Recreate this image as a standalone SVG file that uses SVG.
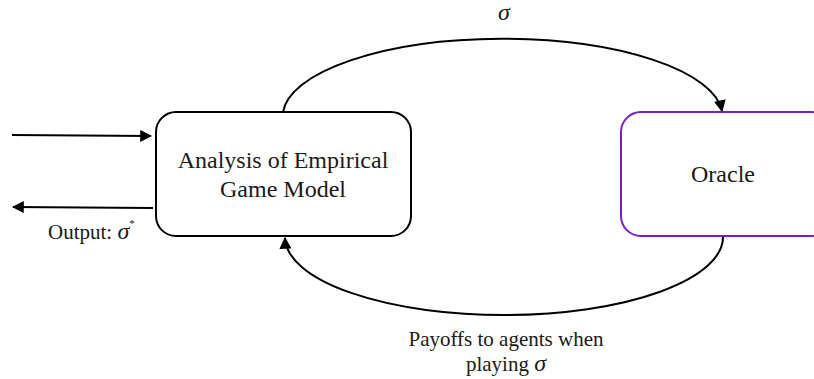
<svg xmlns="http://www.w3.org/2000/svg" width="814" height="379" viewBox="0 0 814 379">
<style>
.t{font-family:"Liberation Serif","DejaVu Serif",serif;fill:#1a1a1a;}
.c{fill:none;stroke:#000;stroke-width:2;}
</style>
<defs>
<marker id="ah" viewBox="0 0 10 10" refX="9" refY="5" markerWidth="6" markerHeight="6" markerUnits="strokeWidth" orient="auto">
<path d="M0,0 L10,5 L0,10 Z" fill="#000"/>
</marker>
</defs>
<rect width="814" height="379" fill="#fff"/>
<g id="connectors">
<path class="c" d="M283,112 A220,78 0 0 1 722,111" marker-end="url(#ah)"/>
<path class="c" d="M723,236 A219,78 0 0 1 285,238" marker-end="url(#ah)"/>
<path class="c" d="M12,135 L151,136" marker-end="url(#ah)"/>
<path class="c" d="M153,208 L13,207" marker-end="url(#ah)"/>
</g>
<g id="analysis">
<rect x="156" y="112" width="255" height="124" rx="20" fill="#fff" stroke="#000" stroke-width="2"/>
<text class="t" x="283" y="168" font-size="24" text-anchor="middle">Analysis of Empirical</text>
<text class="t" x="283" y="197" font-size="24" text-anchor="middle">Game Model</text>
</g>
<g id="oracle">
<rect x="621" y="112" width="210" height="124" rx="20" fill="#fff" stroke="#7a1fc7" stroke-width="2"/>
<text class="t" x="723" y="182" font-size="24" text-anchor="middle">Oracle</text>
</g>
<g id="labels">
<text class="t" x="504" y="20" font-size="24" font-style="italic" text-anchor="middle">σ</text>
<text class="t" x="48" y="239" font-size="21">Output: <tspan font-style="italic" font-size="24">σ</tspan><tspan font-size="11" dy="-12">*</tspan></text>
<text class="t" x="506" y="346" font-size="21" text-anchor="middle">Payoffs to agents when</text>
<text class="t" x="506" y="371" font-size="21" text-anchor="middle">playing <tspan font-style="italic" font-size="24">σ</tspan></text>
</g>
</svg>
